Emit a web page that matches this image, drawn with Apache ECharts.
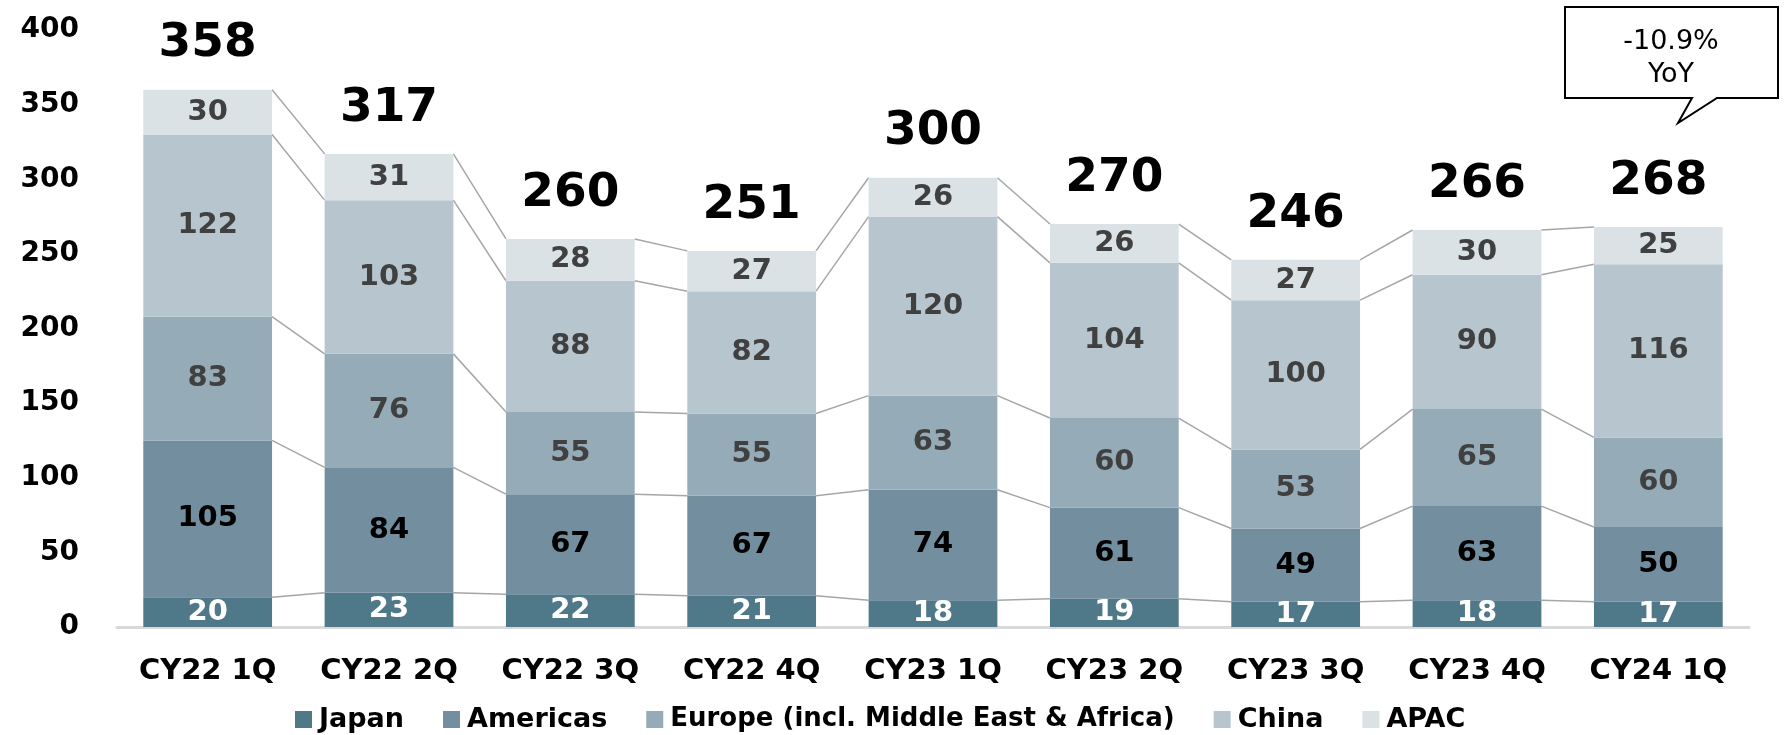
<!DOCTYPE html>
<html>
<head>
<meta charset="utf-8">
<script src="https://cdn.jsdelivr.net/npm/echarts@6/dist/echarts.min.js"></script>
<style>
html, body { margin: 0; padding: 0; background: #fff; }
#main { width: 1787px; height: 735px; }
</style>
</head>
<body>
<div id="main"></div>
<script>
// 四半期
var quarters = ['CY22 1Q', 'CY22 2Q', 'CY22 3Q', 'CY22 4Q', 'CY23 1Q', 'CY23 2Q', 'CY23 3Q', 'CY23 4Q', 'CY24 1Q'];
// 地域別
var japan    = [20, 23, 22, 21, 18, 19, 17, 18, 17];
var americas = [105, 84, 67, 67, 74, 61, 49, 63, 50];
var europe   = [83, 76, 55, 55, 63, 60, 53, 65, 60];
var china    = [122, 103, 88, 82, 120, 104, 100, 90, 116];
var apac     = [30, 31, 28, 27, 26, 26, 27, 30, 25];
// 合計(表示値)
var totals   = [358, 317, 260, 251, 300, 270, 246, 266, 268];
var yTicks   = [0, 50, 100, 150, 200, 250, 300, 350, 400];

var names  = ['Japan', 'Americas', 'Europe (incl. Middle East & Africa)', 'China', 'APAC'];
var layers = [japan, americas, europe, china, apac];
var colors = ['#4f7889', '#728e9f', '#95abb8', '#b7c5ce', '#dbe2e6'];
var labelColors = ['#ffffff', '#000000', '#404040', '#404040', '#404040'];
var font = 'DejaVu Sans';
var barRatio = 0.71;

var chart = echarts.init(document.getElementById('main'));

var series = [];
for (var k = 0; k < layers.length; k++) {
    series.push({
        name: names[k],
        type: 'bar',
        stack: 'total',
        barWidth: (barRatio * 100) + '%',
        itemStyle: { color: colors[k] },
        label: {
            show: true,
            position: 'inside',
            color: labelColors[k],
            fontFamily: font,
            fontWeight: 'bold',
            fontSize: 29
        },
        data: layers[k]
    });
}

// 累積値
function cum(i, level) {
    var s = 0;
    for (var k = 0; k <= level; k++) s += layers[k][i];
    return s;
}

// 区分線
series.push({
    type: 'custom',
    silent: true,
    renderItem: function(params, api) {
        var i = api.value(0);
        var half = api.size([1, 0])[0] * barRatio / 2;
        var children = [];
        for (var k = 0; k < layers.length; k++) {
            var p1 = api.coord([i, cum(i, k)]);
            var p2 = api.coord([i + 1, cum(i + 1, k)]);
            children.push({
                type: 'line',
                shape: { x1: p1[0] + half, y1: p1[1], x2: p2[0] - half, y2: p2[1] },
                style: { stroke: '#a6a6a6', lineWidth: 1.5 }
            });
        }
        return { type: 'group', children: children };
    },
    data: quarters.slice(0, -1).map(function(q, i) { return [i, 0]; }),
    z: 1
});

// 合計ラベル
series.push({
    type: 'scatter',
    symbolSize: 0,
    silent: true,
    itemStyle: { opacity: 1 },
    label: {
        show: true,
        position: 'top',
        distance: 22,
        color: '#000',
        fontFamily: font,
        fontWeight: 'bold',
        fontSize: 47,
        formatter: function(p) { return totals[p.dataIndex]; }
    },
    data: quarters.map(function(q, i) { return cum(i, layers.length - 1); })
});

chart.setOption({
    animation: false,
    grid: { left: 117, right: 38, top: 30, bottom: 108, containLabel: false },
    legend: {
        data: names.map(function(n, k) {
            return k === 2 ? { name: n, textStyle: { fontSize: 26 } } : { name: n };
        }),
        left: 290,
        top: 701,
        itemWidth: 17,
        itemHeight: 17,
        itemGap: 39,
        icon: 'rect',
        textStyle: { color: '#000', fontFamily: font, fontWeight: 'bold', fontSize: 27, padding: [0, 0, 0, 2] }
    },
    xAxis: {
        type: 'category',
        data: quarters,
        axisLine: { lineStyle: { color: '#d9d9d9', width: 3 } },
        axisTick: { show: false },
        axisLabel: {
            color: '#000',
            fontFamily: font,
            fontWeight: 'bold',
            fontSize: 29,
            margin: 30
        }
    },
    yAxis: {
        type: 'value',
        min: yTicks[0],
        max: yTicks[yTicks.length - 1],
        interval: yTicks[1] - yTicks[0],
        splitLine: { show: false },
        axisLine: { show: false },
        axisTick: { show: false },
        axisLabel: {
            color: '#000',
            fontFamily: font,
            fontWeight: 'bold',
            fontSize: 28,
            margin: 38
        }
    },
    graphic: [{
        type: 'group',
        children: [{
            type: 'polygon',
            shape: { points: [[1565, 7], [1778, 7], [1778, 98], [1717, 98], [1678, 123], [1692, 98], [1565, 98]] },
            style: { fill: '#fff', stroke: '#000', lineWidth: 2 }
        }, {
            type: 'text',
            style: {
                x: 1671, y: 58,
                text: '-10.9%\nYoY',
                align: 'center',
                verticalAlign: 'middle',
                fontFamily: font,
                fontSize: 27,
                lineHeight: 33,
                fill: '#000'
            }
        }]
    }],
    series: series
});
</script>
</body>
</html>
